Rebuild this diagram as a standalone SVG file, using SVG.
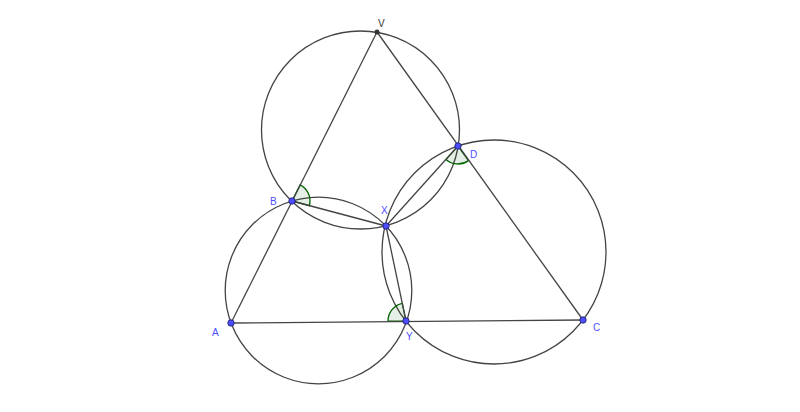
<svg xmlns="http://www.w3.org/2000/svg" width="800" height="412" viewBox="0 0 800 412">
<style>
.c{fill:none;stroke:#444;stroke-width:1.3}
.l{stroke:#444;stroke-width:1.3}
.ang{fill:rgba(0,100,0,0.1);stroke:#006400;stroke-width:1.3}
.pt{fill:#4d4dff;stroke:#1a1a66;stroke-width:0.8}
.lb{font-family:"Liberation Sans",Arial,sans-serif;font-size:10px;fill:#4d4dff}
</style>
<rect width="800" height="412" fill="#fff"/>
<g id="circles">
<circle class="c" cx="360.5" cy="130" r="99"/>
<circle class="c" cx="318.5" cy="290.5" r="93.3"/>
<circle class="c" cx="494" cy="252" r="112"/>
</g>
<g id="angles">
<path class="ang" d="M292,201 L300.1,184.9 A18,18 0 0 1 309.4,205.6 Z"/>
<path class="ang" d="M458,146 L446,159.4 A18,18 0 0 0 468.5,160.6 Z"/>
<path class="ang" d="M406,321 L388,321.1 A18,18 0 0 1 402.3,303.4 Z"/>
</g>
<g id="connectors">
<line class="l" x1="377" y1="32" x2="231" y2="323"/>
<line class="l" x1="377" y1="32" x2="583" y2="320"/>
<line class="l" x1="231" y1="323" x2="583" y2="320"/>
<line class="l" x1="292" y1="201" x2="386" y2="226"/>
<line class="l" x1="386" y1="226" x2="458" y2="146"/>
<line class="l" x1="386" y1="226" x2="406" y2="321"/>
</g>
<g id="V"><circle cx="377" cy="32" r="2.5" fill="#333"/><text x="378" y="27" font-family="Liberation Sans,Arial,sans-serif" font-size="10" fill="#333">V</text></g>
<g id="B"><circle class="pt" cx="292" cy="201" r="3.2"/><text class="lb" x="270" y="205">B</text></g>
<g id="D"><circle class="pt" cx="458" cy="146" r="3.2"/><text class="lb" x="470" y="158">D</text></g>
<g id="X"><circle class="pt" cx="386" cy="226" r="3.2"/><text class="lb" x="381" y="214">X</text></g>
<g id="Y"><circle class="pt" cx="406" cy="321" r="3.2"/><text class="lb" x="406" y="340">Y</text></g>
<g id="A"><circle class="pt" cx="231" cy="323" r="3.2"/><text class="lb" x="212" y="336">A</text></g>
<g id="C"><circle class="pt" cx="583" cy="320" r="3.2"/><text class="lb" x="593" y="331">C</text></g>
</svg>
